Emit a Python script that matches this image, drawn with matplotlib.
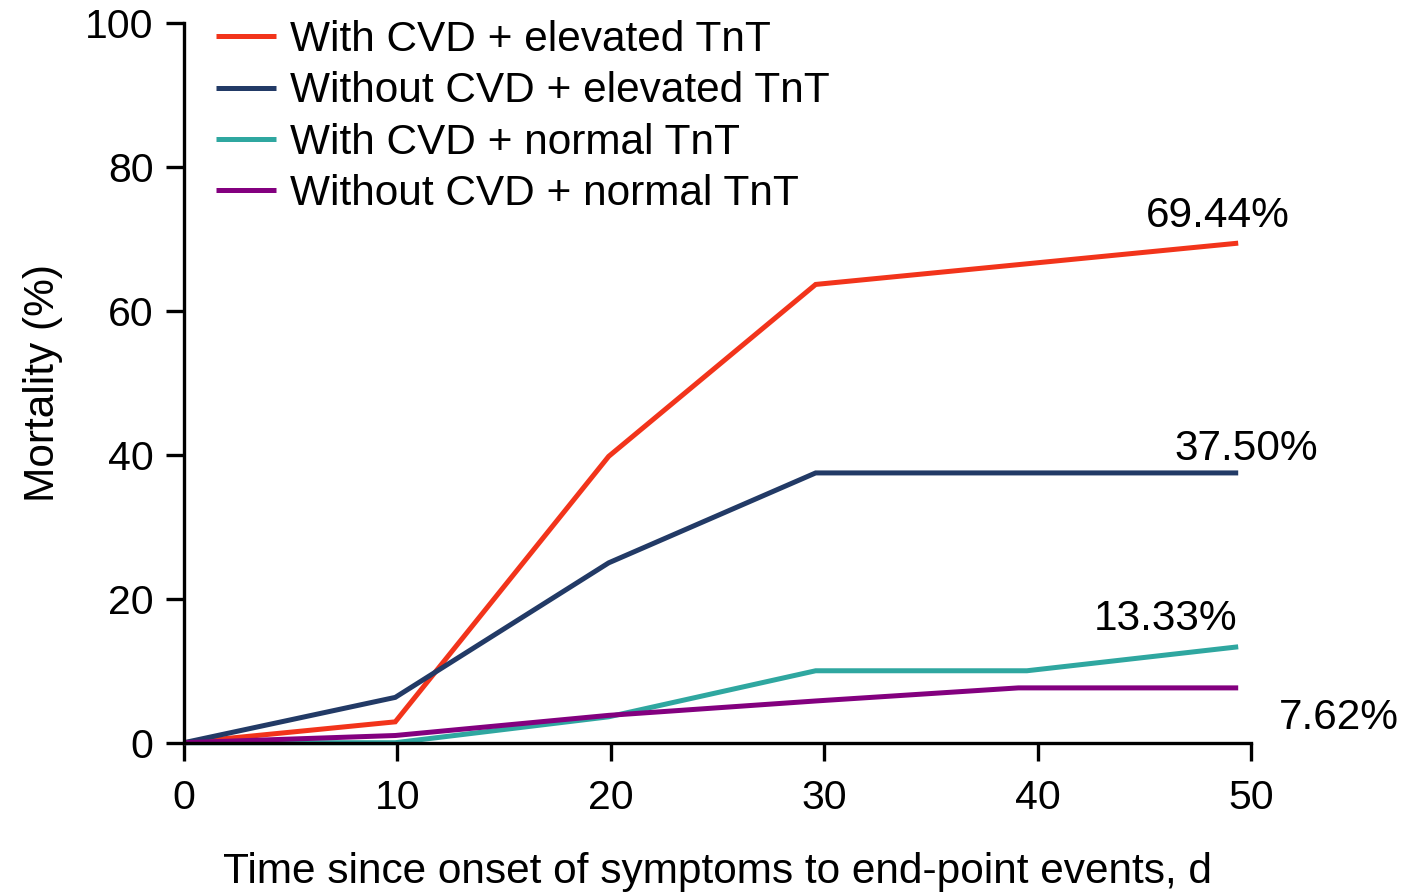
import matplotlib
matplotlib.use("Agg")
import matplotlib.pyplot as plt

plt.rcParams['font.family'] = ['Liberation Sans', 'DejaVu Sans']

# Mortality curves by group (days since symptom onset vs. cumulative mortality, %)
series_names = [
    "With CVD + elevated TnT",
    "Without CVD + elevated TnT",
    "With CVD + normal TnT",
    "Without CVD + normal TnT",
]
red_days = [0, 9.9, 19.9, 29.6, 49.4]
red_mortality = [0, 2.9, 39.8, 63.7, 69.44]
navy_days = [0, 9.9, 19.9, 29.6, 49.4]
navy_mortality = [0, 6.3, 25.0, 37.5, 37.5]
teal_days = [0, 9.9, 19.9, 29.6, 39.5, 49.4]
teal_mortality = [0, 0, 3.6, 10.0, 10.0, 13.33]
purple_days = [0, 9.9, 19.9, 29.6, 39.1, 49.4]
purple_mortality = [0, 1.0, 3.8, 5.8, 7.62, 7.62]

end_labels = ["69.44%", "37.50%", "13.33%", "7.62%"]
end_label_x = [48.43, 49.77, 46.0, 54.1]
end_label_y = [71.7, 39.3, 15.67, 1.9]

colors = ["#F2341B", "#223A66", "#2FA7A0", "#83007F"]

x_ticks = [0, 10, 20, 30, 40, 50]
y_ticks = [0, 20, 40, 60, 80, 100]

W, H = 1416, 894
fig = plt.figure(figsize=(W / 100, H / 100), dpi=100)
left, right, bottom, top = 184, 1251, 742.7, 23.3
ax = fig.add_axes([left / W, (H - bottom) / H, (right - left) / W, (bottom - top) / H])

xs = [red_days, navy_days, teal_days, purple_days]
ys = [red_mortality, navy_mortality, teal_mortality, purple_mortality]
for x, y, c, name in zip(xs, ys, colors, series_names):
    ax.plot(x, y, color=c, lw=3.6, label=name, clip_on=False,
            solid_joinstyle='miter', solid_capstyle='butt')

for txt, tx, ty in zip(end_labels, end_label_x, end_label_y):
    ax.text(tx, ty, txt, fontsize=30.5, ha='center', va='baseline', clip_on=False)

ax.set_xlim(0, 50)
ax.set_ylim(0, 100)
ax.set_xticks(x_ticks)
ax.set_yticks(y_ticks)
ax.tick_params(axis='both', direction='out', length=13, width=2.4, labelsize=29.5)
ax.tick_params(axis='y', pad=9)
ax.tick_params(axis='x', pad=13)
for s in ['top', 'right']:
    ax.spines[s].set_visible(False)
for s in ['left', 'bottom']:
    ax.spines[s].set_linewidth(2.4)

ax.set_xlabel("Time since onset of symptoms to end-point events, d", fontsize=30.5, labelpad=25)
ax.set_ylabel("Mortality (%)", fontsize=30.5, labelpad=16)

leg = ax.legend(loc='upper left', bbox_to_anchor=(216 / W, 1 - 20 / H),
                bbox_transform=fig.transFigure, frameon=False, fontsize=30.5,
                handlelength=1.42, handletextpad=0.32, labelspacing=0.27,
                borderpad=0, borderaxespad=0)
for line in leg.get_lines():
    line.set_linewidth(3.6)

fig.savefig("out.png", dpi=100)
